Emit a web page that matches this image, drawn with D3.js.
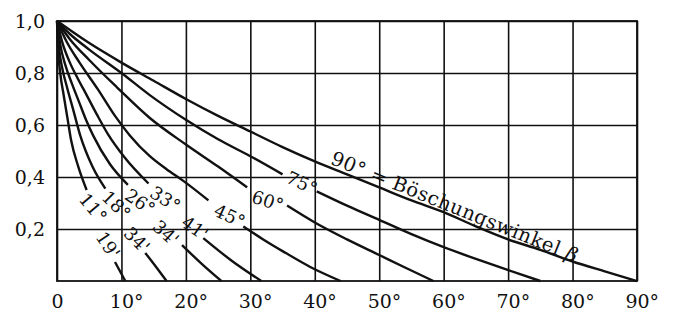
<!DOCTYPE html>
<html lang="de">
<head>
    <meta charset="UTF-8">
    <title>Böschungswinkel</title>
    <script src="https://d3js.org/d3.v7.min.js"></script>
    <style>
        body {
            margin: 0;
            background: #fff;
        }

        text {
            font-family: "DejaVu Serif", serif;
            fill: #111;
        }
    </style>
</head>
<body>
    <div id="chart"></div>

    <script>
        const xTicks = [0, 10, 20, 30, 40, 50, 60, 70, 80, 90];
        const xTickLabels = ["0", "10°", "20°", "30°", "40°", "50°", "60°", "70°", "80°", "90°"];
        const yTicks = [0.2, 0.4, 0.6, 0.8, 1.0];
        const yTickLabels = ["0,2", "0,4", "0,6", "0,8", "1,0"];

        // each curve is cut where its label sits: part a above, part b below
        const c11a = [[0, 1], [0.15, 0.9], [0.5, 0.8], [1.0, 0.72], [1.6, 0.63], [2.2, 0.54], [3.3, 0.44], [4.6, 0.35]];
        const c11b = [[9.0, 0.073], [10.6, 0]];
        const c18a = [[0, 1], [0.3, 0.9], [0.8, 0.82], [1.5, 0.75], [2.5, 0.66], [3.6, 0.56], [5.5, 0.44], [7.5, 0.355]];
        const c18b = [[13.7, 0.108], [15.5, 0.05], [17, 0]];
        const c26a = [[0, 1], [0.5, 0.91], [1.3, 0.83], [2.3, 0.76], [3.4, 0.69], [4.5, 0.62], [5.6, 0.56], [8.2, 0.45], [11, 0.37]];
        const c26b = [[19.4, 0.138], [22.5, 0.065], [25.5, 0]];
        const c33a = [[0, 1], [0.8, 0.92], [2, 0.84], [3.2, 0.78], [4.6, 0.715], [6.2, 0.64], [7.9, 0.565], [10.5, 0.475], [14.2, 0.375]];
        const c33b = [[22.7, 0.165], [27, 0.08], [31.7, 0]];
        const c45a = [[0, 1], [1.5, 0.92], [3.5, 0.84], [6.4, 0.735], [9, 0.635], [11.3, 0.56], [14.4, 0.48], [17, 0.43], [19.6, 0.385], [23.5, 0.31]];
        const c45b = [[28.9, 0.21], [32, 0.16], [35, 0.115], [39.3, 0.054], [44, 0]];
        const c60a = [[0, 1], [2, 0.93], [5, 0.85], [9.3, 0.745], [14.4, 0.627], [20, 0.525], [25, 0.44], [29.5, 0.36]];
        const c60b = [[35.7, 0.29], [40, 0.225], [45, 0.16], [50, 0.10], [54, 0.052], [58.4, 0]];
        const c75a = [[0, 1], [2, 0.95], [5, 0.89], [10, 0.80], [14.4, 0.715], [20, 0.62], [25, 0.545], [30, 0.48], [35, 0.41]];
        const c75b = [[40.3, 0.345], [45, 0.29], [50, 0.235], [55, 0.18], [60, 0.13], [65, 0.085], [70, 0.042], [75, 0]];
        const c90 = [[0, 1], [5, 0.915], [10, 0.84], [15, 0.77], [20, 0.70], [25, 0.635], [30, 0.575], [35, 0.515],
            [40, 0.46], [45, 0.41], [50, 0.36], [55, 0.31], [60, 0.265], [65, 0.21], [70, 0.16], [75, 0.12],
            [80, 0.075], [85, 0.037], [90, 0]];

        const labelText = ["11°", "19'", "18°", "34'", "26°", "34'", "33°", "41'", "45°", "60°", "75°"];
        const labelX = [5.6, 7.9, 9.2, 12.4, 12.9, 16.9, 16.8, 21.4, 26.8, 32.7, 38.0];
        const labelY = [0.281, 0.138, 0.292, 0.158, 0.304, 0.185, 0.315, 0.204, 0.25, 0.308, 0.377];
        const labelAngle = [50, 56, 45, 45, 34, 42, 32, 35, 25, 18, 25];

        const width = 580;
        const height = 260;
        const margin = { top: 21, left: 57 };

        const svg = d3.select("#chart")
            .append("svg")
            .attr("width", 675)
            .attr("height", 313)
            .append("g")
            .attr("transform", `translate(${margin.left}, ${margin.top})`);

        const x = d3.scaleLinear().domain([0, 90]).range([0, width]);
        const y = d3.scaleLinear().domain([0, 1]).range([height, 0]);

        // grid comes from the axes' ticks
        const gx = svg.append("g")
            .attr("transform", `translate(0, ${height})`)
            .call(d3.axisBottom(x)
                .tickValues(xTicks)
                .tickSize(-height)
                .tickPadding(14)
                .tickFormat((d, i) => xTickLabels[i]));

        const gy = svg.append("g")
            .call(d3.axisLeft(y)
                .tickValues(yTicks)
                .tickSize(-width)
                .tickPadding(12)
                .tickFormat((d, i) => yTickLabels[i]));

        [gx, gy].forEach(g => {
            g.select(".domain").remove();
            g.selectAll("line").attr("stroke", "#111").attr("stroke-width", 1.6);
            g.selectAll("text").attr("font-size", 19).attr("fill", "#111");
        });
        gx.selectAll("text").attr("dx", (d, i) => i ? "0.25em" : 0);

        svg.append("rect")
            .attr("x", x(0))
            .attr("y", y(1))
            .attr("width", x(90) - x(0))
            .attr("height", y(0) - y(1))
            .attr("fill", "none")
            .attr("stroke", "#111")
            .attr("stroke-width", 1.8);

        const line = d3.line()
            .x(d => x(d[0]))
            .y(d => y(d[1]))
            .curve(d3.curveMonotoneX);

        const segments = [c11a, c11b, c18a, c18b, c26a, c26b, c33a, c33b, c45a, c45b, c60a, c60b, c75a, c75b, c90];

        svg.selectAll("path.curve")
            .data(segments)
            .enter()
            .append("path")
            .attr("class", "curve")
            .attr("d", line)
            .attr("fill", "none")
            .attr("stroke", "#111")
            .attr("stroke-width", 2.4);

        svg.selectAll("text.lab")
            .data(labelText)
            .enter()
            .append("text")
            .attr("class", "lab")
            .attr("font-size", 18)
            .attr("text-anchor", "middle")
            .attr("dy", "0.35em")
            .attr("transform", (d, i) => `translate(${x(labelX[i])}, ${y(labelY[i])}) rotate(${labelAngle[i]})`)
            .text(d => d);

        const big = svg.append("text")
            .attr("font-size", 19.5)
            .attr("letter-spacing", 0.5)
            .attr("transform", `translate(${x(42.3)}, ${y(0.452)}) rotate(22)`);
        big.append("tspan").text("90° = Böschungswinkel ");
        big.append("tspan").attr("font-style", "italic").text("β");
    </script>
</body>
</html>
